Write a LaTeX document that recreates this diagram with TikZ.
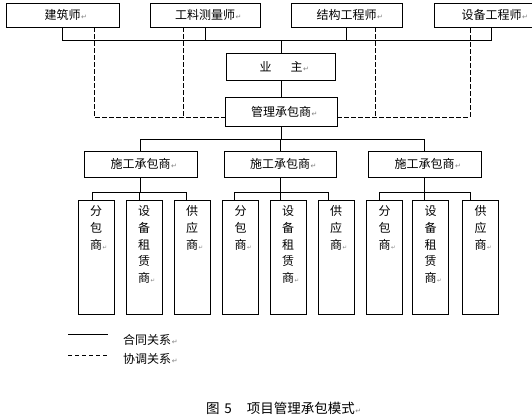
\documentclass[tikz,border=0pt]{standalone}
\usepackage{fontspec}
\setmainfont{Noto Sans CJK SC}
\newfontfamily\markfont{DejaVu Sans}
\newcommand\parmark{\rlap{\kern0.6pt\markfont\fontsize{7}{7}\selectfont\textcolor{gray}{↵}}}
\newcommand\vparmark{\rlap{\kern0.6pt\markfont\fontsize{5.5}{5.5}\selectfont\textcolor{gray}{↵}}}
\begin{document}
\begin{tikzpicture}[x=1pt,y=-1pt,
  box/.style={draw, line width=0.8pt, inner sep=0pt, font=\fontsize{12}{14}\selectfont},
  subbox/.style={draw, line width=0.8pt, inner sep=0pt, minimum width=36pt, minimum height=114pt},
  vtext/.style={anchor=north, inner sep=0pt, align=center, font=\fontsize{12}{16.7}\selectfont},
  link/.style={line width=0.8pt},
  coord/.style={line width=0.8pt, dash pattern=on 4.5pt off 2.5pt},
  legtext/.style={anchor=west, inner sep=0pt, font=\fontsize{12}{14}\selectfont}]
\useasboundingbox (0,0) rectangle (532,418);

% top row
\node[box, minimum width=113pt, minimum height=24pt] (arch) at (62.5,15) {建筑师\parmark};
\node[box, minimum width=110pt, minimum height=24pt] (qs) at (205,15) {工料测量师\parmark};
\node[box, minimum width=111pt, minimum height=24pt] (struct) at (346.5,15) {结构工程师\parmark};
\node[box, minimum width=115pt, minimum height=24pt] (equip) at (491.5,15) {设备工程师\parmark};

\node[box, minimum width=109pt, minimum height=27pt] (owner) at (281,66.5) {业\hspace{19pt}主\parmark};
\node[box, minimum width=112pt, minimum height=29pt] (mc) at (281,111.5) {管理承包商\parmark};

\node[box, minimum width=113pt, minimum height=26pt] (gc1) at (140.5,164) {施工承包商\parmark};
\node[box, minimum width=112pt, minimum height=26pt] (gc2) at (280,164) {施工承包商\parmark};
\node[box, minimum width=113pt, minimum height=26pt] (gc3) at (424.5,164) {施工承包商\parmark};

% sub boxes
\node[subbox] (s11) at (96,257) {};
\node[subbox] (s12) at (144,257) {};
\node[subbox] (s13) at (192,257) {};
\node[subbox] (s21) at (240.5,257) {};
\node[subbox] (s22) at (288,257) {};
\node[subbox] (s23) at (336,257) {};
\node[subbox] (s31) at (384.5,257) {};
\node[subbox] (s32) at (430.5,257) {};
\node[subbox] (s33) at (480.5,257) {};

\foreach \g in {1,2,3}{
  \node[vtext, yshift=-6pt] (t\g1) at (s\g1.north) {分\\包\\商\vparmark};
  \node[vtext, yshift=-6pt] (t\g2) at (s\g2.north) {设\\备\\租\\赁\\商\vparmark};
  \node[vtext, yshift=-6pt] (t\g3) at (s\g3.north) {供\\应\\商\vparmark};
}

% contract lines (solid)
\draw[link] (arch.south) -- (arch.south |- 0,40) -- (equip.south |- 0,40) -- (equip.south);
\draw[link] (qs.south) -- (qs.south |- 0,40);
\draw[link] (struct.south) -- (struct.south |- 0,40);
\draw[link] (owner.north) -- (owner.north |- 0,40);
\draw[link] (owner.south) -- (mc.north);
\draw[link] (mc.south) -- (mc.south |- 0,139);
\draw[link] (gc1.north) -- (gc1.north |- 0,139) -- (gc3.north |- 0,139) -- (gc3.north);
\draw[link] (gc2.north) -- (gc2.north |- 0,139);

\draw[link] (gc1.south) -- (gc1.south |- 0,192);
\draw[link] (s11.north -| 92,0) -- (92,192) -- (186,192) -- (s13.north -| 186,0);
\draw[link] (s12.north -| 139,0) -- (139,192);
\draw[link] (gc2.south) -- (gc2.south |- 0,192);
\draw[link] (s21.north -| 234,0) -- (234,192) -- (328,192) -- (s23.north -| 328,0);
\draw[link] (s22.north -| 280,0) -- (280,192);
\draw[link] (gc3.south) -- (gc3.south |- 0,192);
\draw[link] (s31.north -| 379,0) -- (379,192) -- (470,192) -- (s33.north -| 470,0);
\draw[link] (s32.north -| 424,0) -- (424,192);

% coordination lines (dashed)
\draw[coord] (arch.south -| 94,0) -- (94,117) -- (mc.west |- 0,117);
\draw[coord] (qs.south -| 183,0) -- (183,117);
\draw[coord] (mc.east |- 0,117) -- (470,117) -- (equip.south -| 470,0);
\draw[coord] (struct.south -| 375,0) -- (375,117);

% legend
\coordinate (l1a) at (68,334);
\coordinate (l1b) at (108,334);
\coordinate (l2a) at (68,355);
\coordinate (l2b) at (108,355);
\draw[link] (l1a) -- (l1b);
\draw[line width=0.8pt, dash pattern=on 4pt off 3pt] (l2a) -- (l2b);
\node[legtext] (lt1) at (123,340) {合同关系\parmark};
\node[legtext] (lt2) at (123,359) {协调关系\parmark};

% caption
\node[inner sep=0pt, font=\fontsize{13.5}{15}\selectfont] (cap) at (280.5,408) {图\hspace{0.35em}5\hspace{1.1em}项目管理承包模式\parmark};
\end{tikzpicture}
\end{document}
